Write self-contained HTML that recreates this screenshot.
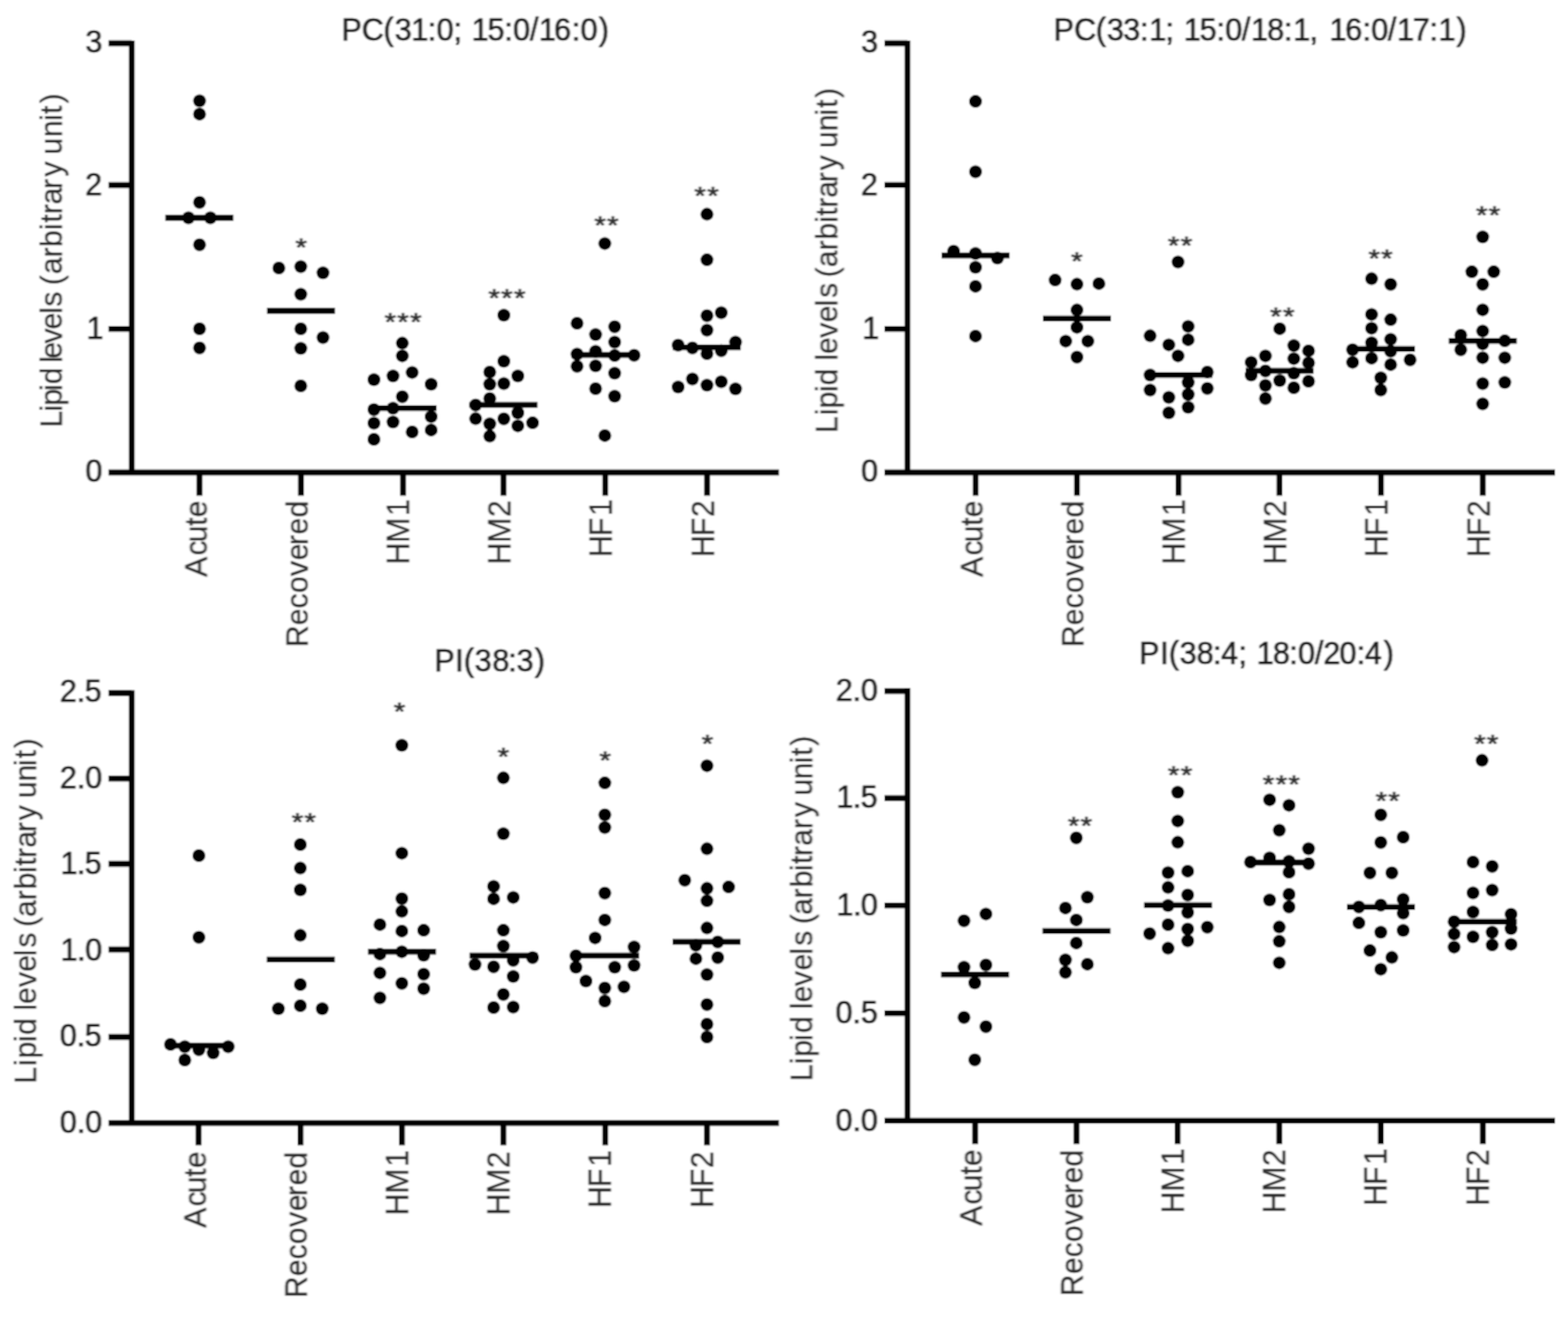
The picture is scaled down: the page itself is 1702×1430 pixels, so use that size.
<!DOCTYPE html>
<html lang="en"><head><meta charset="utf-8"><title>Lipid levels</title>
<style>html,body{margin:0;padding:0;background:#fff}body{width:1702px;height:1430px;overflow:hidden}svg{display:block}text{font-family:"Liberation Sans",Arial,Helvetica,sans-serif;font-size:33px;fill:#202020;stroke:#202020;stroke-width:0.3px;stroke-linejoin:round;white-space:pre}.ax{stroke:#000;stroke-width:6.3;fill:none;stroke-linecap:butt}.md{stroke:#000;stroke-width:6.3}circle{fill:#000}.st{letter-spacing:1.6px;stroke-width:0.7px;fill:#2a2a2a;stroke:#2a2a2a}.h{fill:#141414;stroke:#141414;stroke-width:0.45px}.v{fill:#2c2c2c;stroke:#2c2c2c;stroke-width:0.25px}</style></head><body>
<svg width="1702" height="1430" viewBox="0 0 1702 1430">
<defs><filter id="soft" x="0" y="0" width="1702" height="1430" filterUnits="userSpaceOnUse"><feConvolveMatrix order="3" kernelMatrix="1 2 1 2 4 2 1 2 1" edgeMode="duplicate" preserveAlpha="true"/></filter><filter id="tx" x="0" y="0" width="1702" height="1430" filterUnits="userSpaceOnUse"><feConvolveMatrix order="3 1" kernelMatrix="1 2 1" edgeMode="duplicate" preserveAlpha="false"/></filter></defs>
<rect width="1702" height="1430" fill="#fff"/>
<g filter="url(#soft)"><rect x="-20" y="-20" width="1742" height="1470" fill="#fff"/>
<g id="p1">
<path class="ax" d="M143 43.9V516.1M117.8 513H845.5M117.8 47H143M117.8 201H143M117.8 357.1H143M216.5 513V538.2M326.7 513V538.2M437.5 513V538.2M546.5 513V538.2M657 513V538.2M767.5 513V538.2"/>
<path class="md" d="M179.5 236.5H253.3"/>
<circle cx="216.6" cy="109.5" r="7"/><circle cx="216.6" cy="123.9" r="7"/><circle cx="216.6" cy="219.7" r="7"/><circle cx="204.6" cy="236.5" r="7"/><circle cx="228.4" cy="236.5" r="7"/><circle cx="216.6" cy="265.8" r="7"/><circle cx="216.6" cy="357" r="7"/><circle cx="216.6" cy="377.7" r="7"/>
<path class="md" d="M289.8 337.5H363.6"/>
<circle cx="302.7" cy="291" r="7"/><circle cx="326.5" cy="289.5" r="7"/><circle cx="350.6" cy="296.2" r="7"/><circle cx="326.5" cy="319.5" r="7"/><circle cx="326.5" cy="357" r="7"/><circle cx="350.6" cy="366.5" r="7"/><circle cx="326.5" cy="378.2" r="7"/><circle cx="326.5" cy="419" r="7"/>
<path class="md" d="M400.1 443.2H473.9"/>
<circle cx="436.7" cy="372.6" r="7"/><circle cx="436.7" cy="386.4" r="7"/><circle cx="447.4" cy="404.4" r="7"/><circle cx="426.6" cy="408.2" r="7"/><circle cx="405.9" cy="412.2" r="7"/><circle cx="468" cy="417.2" r="7"/><circle cx="436.7" cy="430.7" r="7"/><circle cx="405.9" cy="444.7" r="7"/><circle cx="426.6" cy="443.2" r="7"/><circle cx="468" cy="452.4" r="7"/><circle cx="405.9" cy="459.5" r="7"/><circle cx="426.6" cy="458.3" r="7"/><circle cx="447.4" cy="469" r="7"/><circle cx="468" cy="466.9" r="7"/><circle cx="405.9" cy="477" r="7"/>
<path class="md" d="M509.6 439.6H583.4"/>
<circle cx="546.9" cy="342.2" r="7"/><circle cx="546.9" cy="392.3" r="7"/><circle cx="531.6" cy="404" r="7"/><circle cx="562.1" cy="408.3" r="7"/><circle cx="531.6" cy="417.3" r="7"/><circle cx="546.9" cy="416.5" r="7"/><circle cx="531.6" cy="432.8" r="7"/><circle cx="516.3" cy="439.8" r="7"/><circle cx="562.1" cy="448.3" r="7"/><circle cx="516.3" cy="454.6" r="7"/><circle cx="546.9" cy="454.8" r="7"/><circle cx="531.6" cy="460.3" r="7"/><circle cx="562.1" cy="462.4" r="7"/><circle cx="578.1" cy="459.1" r="7"/><circle cx="531.6" cy="473.6" r="7"/>
<path class="md" d="M620.1 385.3H693.9"/>
<circle cx="656.5" cy="264.4" r="7"/><circle cx="626.4" cy="351" r="7"/><circle cx="667.2" cy="354.7" r="7"/><circle cx="646.5" cy="363.2" r="7"/><circle cx="667.2" cy="371.5" r="7"/><circle cx="626.4" cy="384.5" r="7"/><circle cx="646.5" cy="381.5" r="7"/><circle cx="667.2" cy="386" r="7"/><circle cx="688.3" cy="385.8" r="7"/><circle cx="626.4" cy="397.8" r="7"/><circle cx="646.5" cy="397.3" r="7"/><circle cx="667.2" cy="405.3" r="7"/><circle cx="646.5" cy="422" r="7"/><circle cx="667.2" cy="430.3" r="7"/><circle cx="656.5" cy="472.9" r="7"/>
<path class="md" d="M730.3 377.2H804.1"/>
<circle cx="767.4" cy="232.6" r="7"/><circle cx="767.4" cy="282.1" r="7"/><circle cx="767.4" cy="342.7" r="7"/><circle cx="782.9" cy="339.5" r="7"/><circle cx="767.4" cy="358.5" r="7"/><circle cx="736.1" cy="374.7" r="7"/><circle cx="751.6" cy="377.7" r="7"/><circle cx="767.4" cy="384" r="7"/><circle cx="782.9" cy="380.8" r="7"/><circle cx="798.4" cy="371.5" r="7"/><circle cx="736.1" cy="420.3" r="7"/><circle cx="751.6" cy="411.5" r="7"/><circle cx="767.4" cy="418.3" r="7"/><circle cx="782.9" cy="414.5" r="7"/><circle cx="798.4" cy="422.3" r="7"/>
</g>
<g id="p2">
<path class="ax" d="M985 43.9V516.1M960.1 513H1688M960.1 47H985M960.1 200.8H985M960.1 357.1H985M1059 513V538.2M1169 513V538.2M1279.2 513V538.2M1388.8 513V538.2M1499 513V538.2M1609.5 513V538.2"/>
<path class="md" d="M1022 277.3H1095.8"/>
<circle cx="1058.9" cy="110.1" r="7"/><circle cx="1058.9" cy="186.5" r="7"/><circle cx="1035.1" cy="272.8" r="7"/><circle cx="1058.9" cy="275.3" r="7"/><circle cx="1082.7" cy="280.3" r="7"/><circle cx="1058.9" cy="290.3" r="7"/><circle cx="1058.9" cy="310.9" r="7"/><circle cx="1058.9" cy="364.9" r="7"/>
<path class="md" d="M1132.1 345.9H1205.9"/>
<circle cx="1145.3" cy="304.1" r="7"/><circle cx="1169" cy="308.6" r="7"/><circle cx="1192.8" cy="307.9" r="7"/><circle cx="1169" cy="336.6" r="7"/><circle cx="1169" cy="355.4" r="7"/><circle cx="1156.8" cy="370.4" r="7"/><circle cx="1180.8" cy="370.4" r="7"/><circle cx="1169" cy="387.7" r="7"/>
<path class="md" d="M1242.3 407.2H1316.1"/>
<circle cx="1278.7" cy="284.5" r="7"/><circle cx="1289.7" cy="354.4" r="7"/><circle cx="1248.4" cy="364.6" r="7"/><circle cx="1289.7" cy="368.9" r="7"/><circle cx="1268.7" cy="374.4" r="7"/><circle cx="1278.7" cy="386.4" r="7"/><circle cx="1248.4" cy="407.2" r="7"/><circle cx="1310.5" cy="403.9" r="7"/><circle cx="1289.7" cy="415.2" r="7"/><circle cx="1248.4" cy="423.5" r="7"/><circle cx="1310.5" cy="421.7" r="7"/><circle cx="1289.7" cy="428.2" r="7"/><circle cx="1268.7" cy="431.5" r="7"/><circle cx="1289.7" cy="442.2" r="7"/><circle cx="1268.7" cy="448.2" r="7"/>
<path class="md" d="M1352 402.7H1425.8"/>
<circle cx="1389.1" cy="356.9" r="7"/><circle cx="1404.4" cy="375.2" r="7"/><circle cx="1420.4" cy="380.9" r="7"/><circle cx="1373.6" cy="386.4" r="7"/><circle cx="1404.4" cy="389.4" r="7"/><circle cx="1358.1" cy="393.4" r="7"/><circle cx="1420.4" cy="393.9" r="7"/><circle cx="1373.6" cy="402.7" r="7"/><circle cx="1404.4" cy="405.2" r="7"/><circle cx="1358.1" cy="407.2" r="7"/><circle cx="1389.1" cy="413.2" r="7"/><circle cx="1420.4" cy="414" r="7"/><circle cx="1373.6" cy="418.5" r="7"/><circle cx="1404.4" cy="421" r="7"/><circle cx="1373.6" cy="432.7" r="7"/>
<path class="md" d="M1462.1 378.9H1535.9"/>
<circle cx="1488.8" cy="302.6" r="7"/><circle cx="1509.5" cy="308.8" r="7"/><circle cx="1488.8" cy="341.4" r="7"/><circle cx="1509.5" cy="347.1" r="7"/><circle cx="1488.8" cy="356.4" r="7"/><circle cx="1509.5" cy="368.4" r="7"/><circle cx="1488.8" cy="372.2" r="7"/><circle cx="1468.2" cy="379.7" r="7"/><circle cx="1509.5" cy="381.4" r="7"/><circle cx="1488.8" cy="388.9" r="7"/><circle cx="1530.6" cy="390.7" r="7"/><circle cx="1468.2" cy="393.4" r="7"/><circle cx="1509.5" cy="395.9" r="7"/><circle cx="1498.8" cy="410.2" r="7"/><circle cx="1498.8" cy="423.5" r="7"/>
<path class="md" d="M1572.6 370.1H1646.4"/>
<circle cx="1609.4" cy="257.3" r="7"/><circle cx="1597.6" cy="295.1" r="7"/><circle cx="1621.4" cy="295.1" r="7"/><circle cx="1609.4" cy="308.8" r="7"/><circle cx="1609.4" cy="336.4" r="7"/><circle cx="1585.6" cy="363.9" r="7"/><circle cx="1609.4" cy="359.4" r="7"/><circle cx="1633.4" cy="370.1" r="7"/><circle cx="1609.4" cy="373.4" r="7"/><circle cx="1585.6" cy="379.7" r="7"/><circle cx="1609.4" cy="388.4" r="7"/><circle cx="1633.4" cy="388.4" r="7"/><circle cx="1609.4" cy="416.5" r="7"/><circle cx="1633.4" cy="415.2" r="7"/><circle cx="1609.4" cy="438.5" r="7"/>
</g>
<g id="p3">
<path class="ax" d="M143 749.4V1222.6M117.8 1219.4H845.5M117.8 752.5H143M117.8 845.4H143M117.8 938H143M117.8 1031H143M117.8 1126H143M215.5 1219.4V1243.6M326.2 1219.4V1243.6M436.3 1219.4V1243.6M546.4 1219.4V1243.6M657 1219.4V1243.6M767.4 1219.4V1243.6"/>
<path class="md" d="M179.5 1135.3H253.3"/>
<circle cx="215.9" cy="929" r="7"/><circle cx="215.9" cy="1017.7" r="7"/><circle cx="185.1" cy="1134" r="7"/><circle cx="200.6" cy="1136.5" r="7"/><circle cx="215.9" cy="1139.8" r="7"/><circle cx="231.4" cy="1143.3" r="7"/><circle cx="247.7" cy="1136.5" r="7"/><circle cx="200.6" cy="1151" r="7"/>
<path class="md" d="M289.6 1041.9H363.4"/>
<circle cx="326" cy="917" r="7"/><circle cx="326" cy="942.6" r="7"/><circle cx="326" cy="966.3" r="7"/><circle cx="326" cy="1015.6" r="7"/><circle cx="326" cy="1069" r="7"/><circle cx="302.2" cy="1095.2" r="7"/><circle cx="326" cy="1092" r="7"/><circle cx="349.8" cy="1095.2" r="7"/>
<path class="md" d="M399.5 1033.4H473.3"/>
<circle cx="436.2" cy="809.3" r="7"/><circle cx="436.2" cy="926.4" r="7"/><circle cx="436.2" cy="975.8" r="7"/><circle cx="436.2" cy="989.6" r="7"/><circle cx="412.4" cy="1003.9" r="7"/><circle cx="436.2" cy="1010.9" r="7"/><circle cx="459.9" cy="1010.1" r="7"/><circle cx="412.4" cy="1035.9" r="7"/><circle cx="436.2" cy="1033.4" r="7"/><circle cx="459.9" cy="1037.2" r="7"/><circle cx="412.4" cy="1056.4" r="7"/><circle cx="459.9" cy="1057.7" r="7"/><circle cx="436.2" cy="1067.7" r="7"/><circle cx="459.9" cy="1073.5" r="7"/><circle cx="412.4" cy="1083.5" r="7"/>
<path class="md" d="M509.7 1037.7H583.5"/>
<circle cx="546.4" cy="844.6" r="7"/><circle cx="546.4" cy="905.2" r="7"/><circle cx="535.8" cy="962.4" r="7"/><circle cx="535.8" cy="975.9" r="7"/><circle cx="557.1" cy="974.4" r="7"/><circle cx="546.4" cy="1010.1" r="7"/><circle cx="546.4" cy="1027.2" r="7"/><circle cx="578.1" cy="1039.7" r="7"/><circle cx="557.1" cy="1042.7" r="7"/><circle cx="515.6" cy="1047.2" r="7"/><circle cx="535.8" cy="1049.7" r="7"/><circle cx="557.1" cy="1060.2" r="7"/><circle cx="546.4" cy="1079.7" r="7"/><circle cx="535.8" cy="1094" r="7"/><circle cx="557.1" cy="1093.5" r="7"/>
<path class="md" d="M619.9 1037.7H693.7"/>
<circle cx="656.5" cy="850.1" r="7"/><circle cx="656.5" cy="884.7" r="7"/><circle cx="656.5" cy="898.5" r="7"/><circle cx="656.5" cy="969.7" r="7"/><circle cx="656.5" cy="998.9" r="7"/><circle cx="646" cy="1018.4" r="7"/><circle cx="688.3" cy="1028.2" r="7"/><circle cx="625.2" cy="1037.7" r="7"/><circle cx="625.2" cy="1050.2" r="7"/><circle cx="667.3" cy="1050.2" r="7"/><circle cx="688.3" cy="1048.2" r="7"/><circle cx="636" cy="1065.2" r="7"/><circle cx="677.3" cy="1071.5" r="7"/><circle cx="656.5" cy="1072.7" r="7"/><circle cx="656.5" cy="1087" r="7"/>
<path class="md" d="M730 1022.7H803.8"/>
<circle cx="767.4" cy="831.4" r="7"/><circle cx="767.4" cy="921.6" r="7"/><circle cx="743.3" cy="955.8" r="7"/><circle cx="767.4" cy="964.6" r="7"/><circle cx="790.9" cy="963.1" r="7"/><circle cx="767.4" cy="978.1" r="7"/><circle cx="767.4" cy="1007.6" r="7"/><circle cx="779.1" cy="1022.7" r="7"/><circle cx="755.4" cy="1026.4" r="7"/><circle cx="755.4" cy="1040.9" r="7"/><circle cx="779.1" cy="1039.7" r="7"/><circle cx="767.4" cy="1058.2" r="7"/><circle cx="767.4" cy="1090.7" r="7"/><circle cx="767.4" cy="1112" r="7"/><circle cx="767.4" cy="1126" r="7"/>
</g>
<g id="p4">
<path class="ax" d="M985 747.1V1220.1M960.1 1216.9H1688M960.1 750.3H985M960.1 866.7H985M960.1 983.2H985M960.1 1100.2H985M1058.5 1216.9V1242.2M1168.5 1216.9V1242.2M1278.2 1216.9V1242.2M1388.6 1216.9V1242.2M1498.8 1216.9V1242.2M1609.6 1216.9V1242.2"/>
<path class="md" d="M1021.5 1058.2H1095.3"/>
<circle cx="1046.4" cy="999.8" r="7"/><circle cx="1070.2" cy="992.4" r="7"/><circle cx="1046.4" cy="1050.2" r="7"/><circle cx="1070.2" cy="1047.7" r="7"/><circle cx="1058.1" cy="1067.2" r="7"/><circle cx="1046.4" cy="1104.8" r="7"/><circle cx="1070.2" cy="1114.8" r="7"/><circle cx="1058.1" cy="1150.8" r="7"/>
<path class="md" d="M1131.6 1010.9H1205.4"/>
<circle cx="1168.3" cy="909.8" r="7"/><circle cx="1180.3" cy="974.3" r="7"/><circle cx="1156.5" cy="985.9" r="7"/><circle cx="1168.3" cy="998.9" r="7"/><circle cx="1168.3" cy="1023.9" r="7"/><circle cx="1156.5" cy="1042.2" r="7"/><circle cx="1180.3" cy="1046.9" r="7"/><circle cx="1156.5" cy="1055.7" r="7"/>
<path class="md" d="M1241.8 982.8H1315.6"/>
<circle cx="1278.4" cy="860.2" r="7"/><circle cx="1278.4" cy="891.4" r="7"/><circle cx="1278.4" cy="914.6" r="7"/><circle cx="1267.9" cy="947.5" r="7"/><circle cx="1289.2" cy="945.9" r="7"/><circle cx="1267.9" cy="963.6" r="7"/><circle cx="1289.2" cy="971.8" r="7"/><circle cx="1267.9" cy="983.2" r="7"/><circle cx="1289.2" cy="990.7" r="7"/><circle cx="1267.9" cy="1004" r="7"/><circle cx="1310.5" cy="1006.8" r="7"/><circle cx="1289.2" cy="1008.7" r="7"/><circle cx="1247.9" cy="1013.7" r="7"/><circle cx="1289.2" cy="1021.5" r="7"/><circle cx="1267.9" cy="1029.6" r="7"/>
<path class="md" d="M1352 936.5H1425.8"/>
<circle cx="1378.1" cy="868.4" r="7"/><circle cx="1399.2" cy="874.4" r="7"/><circle cx="1388.6" cy="901.5" r="7"/><circle cx="1420.4" cy="921.5" r="7"/><circle cx="1378.1" cy="931.5" r="7"/><circle cx="1357.4" cy="936" r="7"/><circle cx="1399.2" cy="935.3" r="7"/><circle cx="1420.4" cy="937.8" r="7"/><circle cx="1399.2" cy="947" r="7"/><circle cx="1399.2" cy="971" r="7"/><circle cx="1378.1" cy="977.3" r="7"/><circle cx="1399.2" cy="984.8" r="7"/><circle cx="1388.6" cy="1006.6" r="7"/><circle cx="1388.6" cy="1022.1" r="7"/><circle cx="1388.6" cy="1045.4" r="7"/>
<path class="md" d="M1462.1 984.8H1535.9"/>
<circle cx="1498.8" cy="884.7" r="7"/><circle cx="1523.1" cy="909" r="7"/><circle cx="1498.8" cy="914.7" r="7"/><circle cx="1487" cy="947.8" r="7"/><circle cx="1510.8" cy="947.8" r="7"/><circle cx="1523.1" cy="976.5" r="7"/><circle cx="1475" cy="984.8" r="7"/><circle cx="1498.8" cy="982.8" r="7"/><circle cx="1523.1" cy="991.6" r="7"/><circle cx="1475" cy="1002.1" r="7"/><circle cx="1523.1" cy="1010.3" r="7"/><circle cx="1498.8" cy="1012.3" r="7"/><circle cx="1487" cy="1032.1" r="7"/><circle cx="1510.8" cy="1039.6" r="7"/><circle cx="1498.8" cy="1052.4" r="7"/>
<path class="md" d="M1572.6 1000.8H1646.4"/>
<circle cx="1608.7" cy="825.6" r="7"/><circle cx="1598.9" cy="936" r="7"/><circle cx="1619.7" cy="940.8" r="7"/><circle cx="1598.9" cy="969.5" r="7"/><circle cx="1619.7" cy="966.5" r="7"/><circle cx="1598.9" cy="990.3" r="7"/><circle cx="1640.2" cy="992.8" r="7"/><circle cx="1578.4" cy="1000.8" r="7"/><circle cx="1640.2" cy="1008.3" r="7"/><circle cx="1578.4" cy="1014.1" r="7"/><circle cx="1619.7" cy="1012.3" r="7"/><circle cx="1598.9" cy="1017.3" r="7"/><circle cx="1578.4" cy="1028.4" r="7"/><circle cx="1619.7" cy="1026.1" r="7"/><circle cx="1640.2" cy="1025.4" r="7"/>
</g>
<g filter="url(#tx)">
<text class="h" transform="translate(0 43.8) scale(1 1.045)" x="370.8 392.8 416.3 428.4 446.4 464.2 473.9 492.2 501.9 512 529.3 547.5 557 575.2 585.1 601.5 620.8 630.3 649.9" y="0">PC(31:0; 15:0/16:0)</text>
<text class="h" transform="translate(0 56.5) scale(1 1.075)" x="92.8" y="0">3</text>
<text class="h" transform="translate(0 212.4) scale(1 1.075)" x="92.4" y="0">2</text>
<text class="h" transform="translate(0 368.2) scale(1 1.075)" x="94.1" y="0">1</text>
<text class="h" transform="translate(0 523.1) scale(1 1.075)" x="92.8" y="0">0</text>
<text class="v" transform="translate(224.3 0) rotate(-90) scale(1 1.03)" x="-626.5 -603.3 -588.9 -571 -561.7" y="0">Acute</text>
<text class="v" transform="translate(333.8 0) rotate(-90) scale(1 1.03)" x="-702.8 -678.9 -660.7 -644.1 -625.5 -608.5 -591.9 -580.5 -562.1" y="0">Recovered</text>
<text class="v" transform="translate(444.1 0) rotate(-90) scale(1 1.065)" x="-612.9 -589.5 -560.3" y="0">HM1</text>
<text class="v" transform="translate(554.1 0) rotate(-90) scale(1 1.065)" x="-612.9 -589.5 -561.6" y="0">HM2</text>
<text class="v" transform="translate(664.1 0) rotate(-90) scale(1 1.065)" x="-605 -582.2 -560.3" y="0">HF1</text>
<text class="v" transform="translate(774.5 0) rotate(-90) scale(1 1.065)" x="-605 -582.2 -561.6" y="0">HF2</text>
<text class="v" transform="translate(67 0) rotate(-90)" x="-464.2 -447 -440.6 -424.4 -417.3 -401.5 -393.9 -389.4 -372.9 -357.8 -340.7 -332.9 -317.7 -309.7 -297.8 -279.6 -268.3 -250.1 -241.8 -232.6 -222.1 -205.2 -191.8 -176.1 -167.9 -148.9 -131.2 -123.8 -112.2" y="0">Lipid levels (arbitrary unit)</text>
<text class="st" transform="translate(327.6 277.9) scale(0.96 0.83)" text-anchor="middle">*</text>
<text class="st" transform="translate(438.3 359.2) scale(0.96 0.83)" text-anchor="middle">***</text>
<text class="st" transform="translate(551 333.1) scale(0.96 0.83)" text-anchor="middle">***</text>
<text class="st" transform="translate(659 254.2) scale(0.96 0.83)" text-anchor="middle">**</text>
<text class="st" transform="translate(767.7 222.4) scale(0.96 0.83)" text-anchor="middle">**</text>
<text class="h" transform="translate(0 43.8) scale(1 1.045)" x="1143.8 1166 1189.5 1201.4 1219.3 1237.6 1247.5 1265.1 1274.9 1285 1302.3 1320.4 1329.9 1348.1 1358.1 1375.5 1393.7 1403.7 1421.4 1431.9 1443.2 1460.3 1478.9 1488.4 1506.4 1516.5 1533.5 1551.7 1561.6 1581.1" y="0">PC(33:1; 15:0/18:1, 16:0/17:1)</text>
<text class="h" transform="translate(0 56.5) scale(1 1.075)" x="934.8" y="0">3</text>
<text class="h" transform="translate(0 212.4) scale(1 1.075)" x="934.4" y="0">2</text>
<text class="h" transform="translate(0 368.2) scale(1 1.075)" x="936.1" y="0">1</text>
<text class="h" transform="translate(0 523.1) scale(1 1.075)" x="934.8" y="0">0</text>
<text class="v" transform="translate(1066.3 0) rotate(-90) scale(1 1.03)" x="-626.5 -603.3 -588.9 -571 -561.7" y="0">Acute</text>
<text class="v" transform="translate(1175.8 0) rotate(-90) scale(1 1.03)" x="-702.8 -678.9 -660.7 -644.1 -625.5 -608.5 -591.9 -580.5 -562.1" y="0">Recovered</text>
<text class="v" transform="translate(1286.1 0) rotate(-90) scale(1 1.065)" x="-612.9 -589.5 -560.3" y="0">HM1</text>
<text class="v" transform="translate(1396.1 0) rotate(-90) scale(1 1.065)" x="-612.9 -589.5 -561.6" y="0">HM2</text>
<text class="v" transform="translate(1506.1 0) rotate(-90) scale(1 1.065)" x="-605 -582.2 -560.3" y="0">HF1</text>
<text class="v" transform="translate(1616.5 0) rotate(-90) scale(1 1.065)" x="-605 -582.2 -561.6" y="0">HF2</text>
<text class="v" transform="translate(908.7 0) rotate(-90)" x="-470.2 -450.9 -443.5 -425.7 -418.4 -400.3 -391.4 -384.4 -366.7 -350.1 -332.7 -323.6 -308.9 -301.3 -290.3 -271.9 -260.2 -242.1 -234.5 -225.5 -214.8 -197.9 -184.9 -169.2 -160.9 -142.4 -125.4 -117.3 -106.2" y="0">Lipid levels (arbitrary unit)</text>
<text class="st" transform="translate(1169.8 293.2) scale(0.96 0.83)" text-anchor="middle">*</text>
<text class="st" transform="translate(1281.7 275.7) scale(0.96 0.83)" text-anchor="middle">**</text>
<text class="st" transform="translate(1392.7 353) scale(0.96 0.83)" text-anchor="middle">**</text>
<text class="st" transform="translate(1499.3 289.9) scale(0.96 0.83)" text-anchor="middle">**</text>
<text class="st" transform="translate(1616 242.6) scale(0.96 0.83)" text-anchor="middle">**</text>
<text class="h" transform="translate(0 729.2) scale(1 1.045)" x="471.5 494.1 503.6 515.2 534.4 551.7 560.8 580.4" y="0">PI(38:3)</text>
<text class="h" transform="translate(0 761.9) scale(1 1.075)" x="65.1 83.2 92.1" y="0">2.5</text>
<text class="h" transform="translate(0 855.6) scale(1 1.075)" x="65.1 83.4 92.5" y="0">2.0</text>
<text class="h" transform="translate(0 949.3) scale(1 1.075)" x="65.8 83.5 92.1" y="0">1.5</text>
<text class="h" transform="translate(0 1043.1) scale(1 1.075)" x="65.8 83.7 92.5" y="0">1.0</text>
<text class="h" transform="translate(0 1136.4) scale(1 1.075)" x="65.1 83.2 92.1" y="0">0.5</text>
<text class="h" transform="translate(0 1229.7) scale(1 1.075)" x="65.1 83.4 92.5" y="0">0.0</text>
<text class="v" transform="translate(223.3 0) rotate(-90) scale(1 1.03)" x="-1333.3 -1310.1 -1295.7 -1277.8 -1268.5" y="0">Acute</text>
<text class="v" transform="translate(332.8 0) rotate(-90) scale(1 1.03)" x="-1409.6 -1385.7 -1367.5 -1350.9 -1332.3 -1315.3 -1298.7 -1287.3 -1268.9" y="0">Recovered</text>
<text class="v" transform="translate(443.1 0) rotate(-90) scale(1 1.065)" x="-1319.7 -1296.3 -1267.1" y="0">HM1</text>
<text class="v" transform="translate(553.1 0) rotate(-90) scale(1 1.065)" x="-1319.7 -1296.3 -1268.4" y="0">HM2</text>
<text class="v" transform="translate(663.1 0) rotate(-90) scale(1 1.065)" x="-1311.8 -1289 -1267.1" y="0">HF1</text>
<text class="v" transform="translate(773.5 0) rotate(-90) scale(1 1.065)" x="-1311.8 -1289 -1268.4" y="0">HF2</text>
<text class="v" transform="translate(39 0) rotate(-90)" x="-1176.7 -1157.5 -1149.3 -1131.6 -1123.8 -1106.1 -1097.3 -1090.2 -1071.8 -1055.2 -1038.3 -1029 -1014.2 -1006.4 -995.8 -977.5 -965.7 -948 -940.3 -931.4 -920.6 -903.4 -890.7 -875 -866.8 -848.6 -831.9 -823.5 -812.4" y="0">Lipid levels (arbitrary unit)</text>
<text class="st" transform="translate(330.6 902.3) scale(0.96 0.83)" text-anchor="middle">**</text>
<text class="st" transform="translate(434.5 781.7) scale(0.96 0.83)" text-anchor="middle">*</text>
<text class="st" transform="translate(547.2 831) scale(0.96 0.83)" text-anchor="middle">*</text>
<text class="st" transform="translate(657.8 835) scale(0.96 0.83)" text-anchor="middle">*</text>
<text class="st" transform="translate(768.7 816.7) scale(0.96 0.83)" text-anchor="middle">*</text>
<text class="h" transform="translate(0 721.1) scale(1 1.045)" x="1236.6 1259.3 1268.7 1280.4 1299.1 1316.8 1325.5 1344.3 1354 1364.2 1381.7 1399.5 1409 1427.2 1436.5 1454.1 1472.8 1481.5 1502" y="0">PI(38:4; 18:0/20:4)</text>
<text class="h" transform="translate(0 761.1) scale(1 1.075)" x="907.2 925.5 934.6" y="0">2.0</text>
<text class="h" transform="translate(0 877.2) scale(1 1.075)" x="908.1 925.7 934.2" y="0">1.5</text>
<text class="h" transform="translate(0 994.3) scale(1 1.075)" x="908.1 925.9 934.6" y="0">1.0</text>
<text class="h" transform="translate(0 1110.7) scale(1 1.075)" x="907.1 925.3 934.4" y="0">0.5</text>
<text class="h" transform="translate(0 1227.5) scale(1 1.075)" x="907.1 925.4 934.5" y="0">0.0</text>
<text class="v" transform="translate(1065.5 0) rotate(-90) scale(1 1.03)" x="-1331.1 -1307.9 -1293.5 -1275.6 -1266.3" y="0">Acute</text>
<text class="v" transform="translate(1175 0) rotate(-90) scale(1 1.03)" x="-1407.4 -1383.5 -1365.3 -1348.7 -1330.2 -1313.1 -1296.5 -1285.1 -1266.7" y="0">Recovered</text>
<text class="v" transform="translate(1285.3 0) rotate(-90) scale(1 1.065)" x="-1317.5 -1294.1 -1264.9" y="0">HM1</text>
<text class="v" transform="translate(1395.3 0) rotate(-90) scale(1 1.065)" x="-1317.5 -1294.1 -1266.2" y="0">HM2</text>
<text class="v" transform="translate(1505.3 0) rotate(-90) scale(1 1.065)" x="-1309.6 -1286.8 -1264.9" y="0">HF1</text>
<text class="v" transform="translate(1615.7 0) rotate(-90) scale(1 1.065)" x="-1309.6 -1286.8 -1266.2" y="0">HF2</text>
<text class="v" transform="translate(881.4 0) rotate(-90)" x="-1173.9 -1155.4 -1147.5 -1130.2 -1121.7 -1104.4 -1095.9 -1088.4 -1070.8 -1053.7 -1036.5 -1026.9 -1011.6 -1003.5 -993.4 -975.4 -963.6 -945.9 -938.2 -929.6 -918.5 -900.2 -887.2 -871.8 -864 -846.2 -829.1 -820.7 -809.7" y="0">Lipid levels (arbitrary unit)</text>
<text class="st" transform="translate(1173.1 906.1) scale(0.96 0.83)" text-anchor="middle">**</text>
<text class="st" transform="translate(1281.7 851) scale(0.96 0.83)" text-anchor="middle">**</text>
<text class="st" transform="translate(1391.6 860.5) scale(0.96 0.83)" text-anchor="middle">***</text>
<text class="st" transform="translate(1507.1 878.6) scale(0.96 0.83)" text-anchor="middle">**</text>
<text class="st" transform="translate(1614 817.2) scale(0.96 0.83)" text-anchor="middle">**</text>
</g>
</g></svg></body></html>
